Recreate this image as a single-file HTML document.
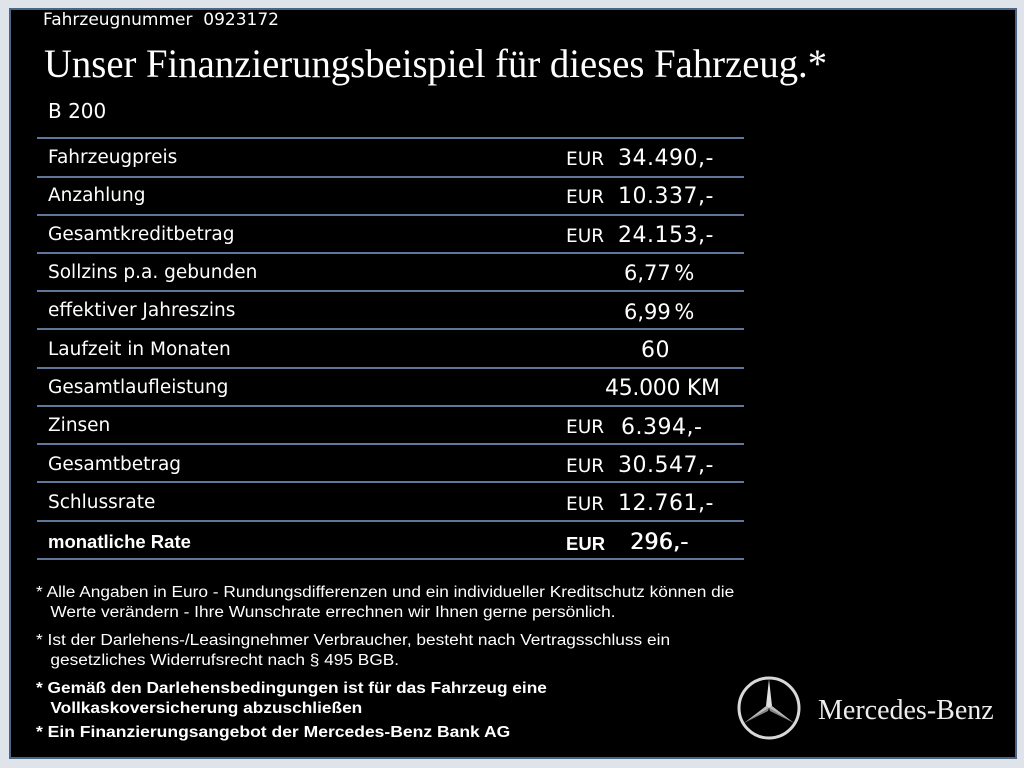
<!DOCTYPE html>
<html><head><meta charset="utf-8"><style>
html,body{margin:0;padding:0;width:1024px;height:768px;overflow:hidden;background:#dfe4ea;}
.box{position:absolute;left:9px;top:8px;width:1004px;height:747px;background:#000;border:2px solid #4b6585;box-sizing:content-box;}
.t{position:absolute;color:#fff;font-family:"DejaVu Sans","Liberation Sans",sans-serif;white-space:nowrap;}
.serif{font-family:"Liberation Serif",serif;}
.line{position:absolute;left:37px;width:707px;height:2px;background:#5f7798;}
.lab{position:absolute;left:48px;font-size:18.5px;color:#fff;font-family:"DejaVu Sans","Liberation Sans",sans-serif;}
.eur{position:absolute;left:566px;font-size:18.5px;color:#fff;font-family:"DejaVu Sans",sans-serif;}
.val{position:absolute;left:618px;font-size:22px;color:#fff;font-family:"DejaVu Sans",sans-serif;letter-spacing:0.5px;white-space:nowrap;}
.note{position:absolute;left:36px;color:#fff;font-family:"Liberation Sans",Arial,sans-serif;font-size:15.5px;line-height:20px;white-space:nowrap;transform-origin:left top;}
</style></head><body>
<div class="box"></div>
<div class="t" style="left:43px;top:10px;font-size:17px;">Fahrzeugnummer&nbsp; 0923172</div>
<div class="t serif" style="left:44px;top:40px;font-size:40px;transform:scaleX(0.967);transform-origin:left;">Unser Finanzierungsbeispiel für dieses Fahrzeug.*</div>
<div class="t" style="left:48px;top:99px;font-size:20px;">B 200</div>

<div class="line" style="top:137px"></div>
<div class="line" style="top:176px"></div>
<div class="line" style="top:214px"></div>
<div class="line" style="top:252px"></div>
<div class="line" style="top:290px"></div>
<div class="line" style="top:328px"></div>
<div class="line" style="top:367px"></div>
<div class="line" style="top:405px"></div>
<div class="line" style="top:443px"></div>
<div class="line" style="top:481px"></div>
<div class="line" style="top:520px"></div>
<div class="line" style="top:558px"></div>

<div class="lab" style="top:147px">Fahrzeugpreis</div>
<div class="eur" style="top:149px">EUR</div><div class="val" style="top:146px">34.490,-</div>
<div class="lab" style="top:185px">Anzahlung</div>
<div class="eur" style="top:187px">EUR</div><div class="val" style="top:184px">10.337,-</div>
<div class="lab" style="top:224px">Gesamtkreditbetrag</div>
<div class="eur" style="top:226px">EUR</div><div class="val" style="top:223px">24.153,-</div>
<div class="lab" style="top:262px">Sollzins p.a. gebunden</div>
<div class="val" style="top:261px;left:624px;letter-spacing:0;font-size:21px;word-spacing:-3px">6,77 %</div>
<div class="lab" style="top:300px">effektiver Jahreszins</div>
<div class="val" style="top:300px;left:624px;letter-spacing:0;font-size:21px;word-spacing:-3px">6,99 %</div>
<div class="lab" style="top:339px">Laufzeit in Monaten</div>
<div class="val" style="top:338px;left:641px">60</div>
<div class="lab" style="top:377px">Gesamtlaufleistung</div>
<div class="val" style="top:376px;left:605px;letter-spacing:-0.3px">45.000 KM</div>
<div class="lab" style="top:415px">Zinsen</div>
<div class="eur" style="top:417px">EUR</div><div class="val" style="top:415px;left:621px">6.394,-</div>
<div class="lab" style="top:454px">Gesamtbetrag</div>
<div class="eur" style="top:456px">EUR</div><div class="val" style="top:453px">30.547,-</div>
<div class="lab" style="top:492px">Schlussrate</div>
<div class="eur" style="top:494px">EUR</div><div class="val" style="top:491px">12.761,-</div>
<div class="lab" style="top:531px;font-family:'Liberation Sans',sans-serif;font-weight:bold;font-size:18.5px;">monatliche Rate</div>
<div class="eur" style="top:533px;font-family:'Liberation Sans',sans-serif;font-weight:bold;">EUR</div>
<div class="val" style="top:530px;left:630px;text-shadow:0.6px 0 0 #fff;letter-spacing:0.3px">296,-</div>

<div class="note" style="top:583px;transform:scaleX(1.115)">* Alle Angaben in Euro - Rundungsdifferenzen und ein individueller Kreditschutz können die<br>&nbsp;&nbsp;&nbsp;Werte verändern - Ihre Wunschrate errechnen wir Ihnen gerne persönlich.</div>
<div class="note" style="top:631px;transform:scaleX(1.115)">* Ist der Darlehens-/Leasingnehmer Verbraucher, besteht nach Vertragsschluss ein<br>&nbsp;&nbsp;&nbsp;gesetzliches Widerrufsrecht nach § 495 BGB.</div>
<div class="note" style="top:679px;font-weight:bold;transform:scaleX(1.115)">* Gemäß den Darlehensbedingungen ist für das Fahrzeug eine<br>&nbsp;&nbsp;&nbsp;Vollkaskoversicherung abzuschließen</div>
<div class="note" style="top:723px;font-weight:bold;transform:scaleX(1.13)">* Ein Finanzierungsangebot der Mercedes-Benz Bank AG</div>

<svg style="position:absolute;left:736px;top:675px" width="66" height="66" viewBox="0 0 66 66">
<circle cx="33" cy="33" r="30" fill="none" stroke="#d8d8d8" stroke-width="3"/>
<polygon points="33,4 36,31 33,33 30,31" fill="#e0e0e0"/>
<polygon points="33,33 36,31 58,48 " fill="#bbb"/>
<polygon points="33,33 30,31 8,48" fill="#bbb"/>
<polygon points="33,33 34,36 58,48" fill="#888"/>
<polygon points="33,33 32,36 8,48" fill="#888"/>
</svg>
<div class="t serif" style="left:818px;top:695px;font-size:28px;color:#eee;">Mercedes-Benz</div>
</body></html>
